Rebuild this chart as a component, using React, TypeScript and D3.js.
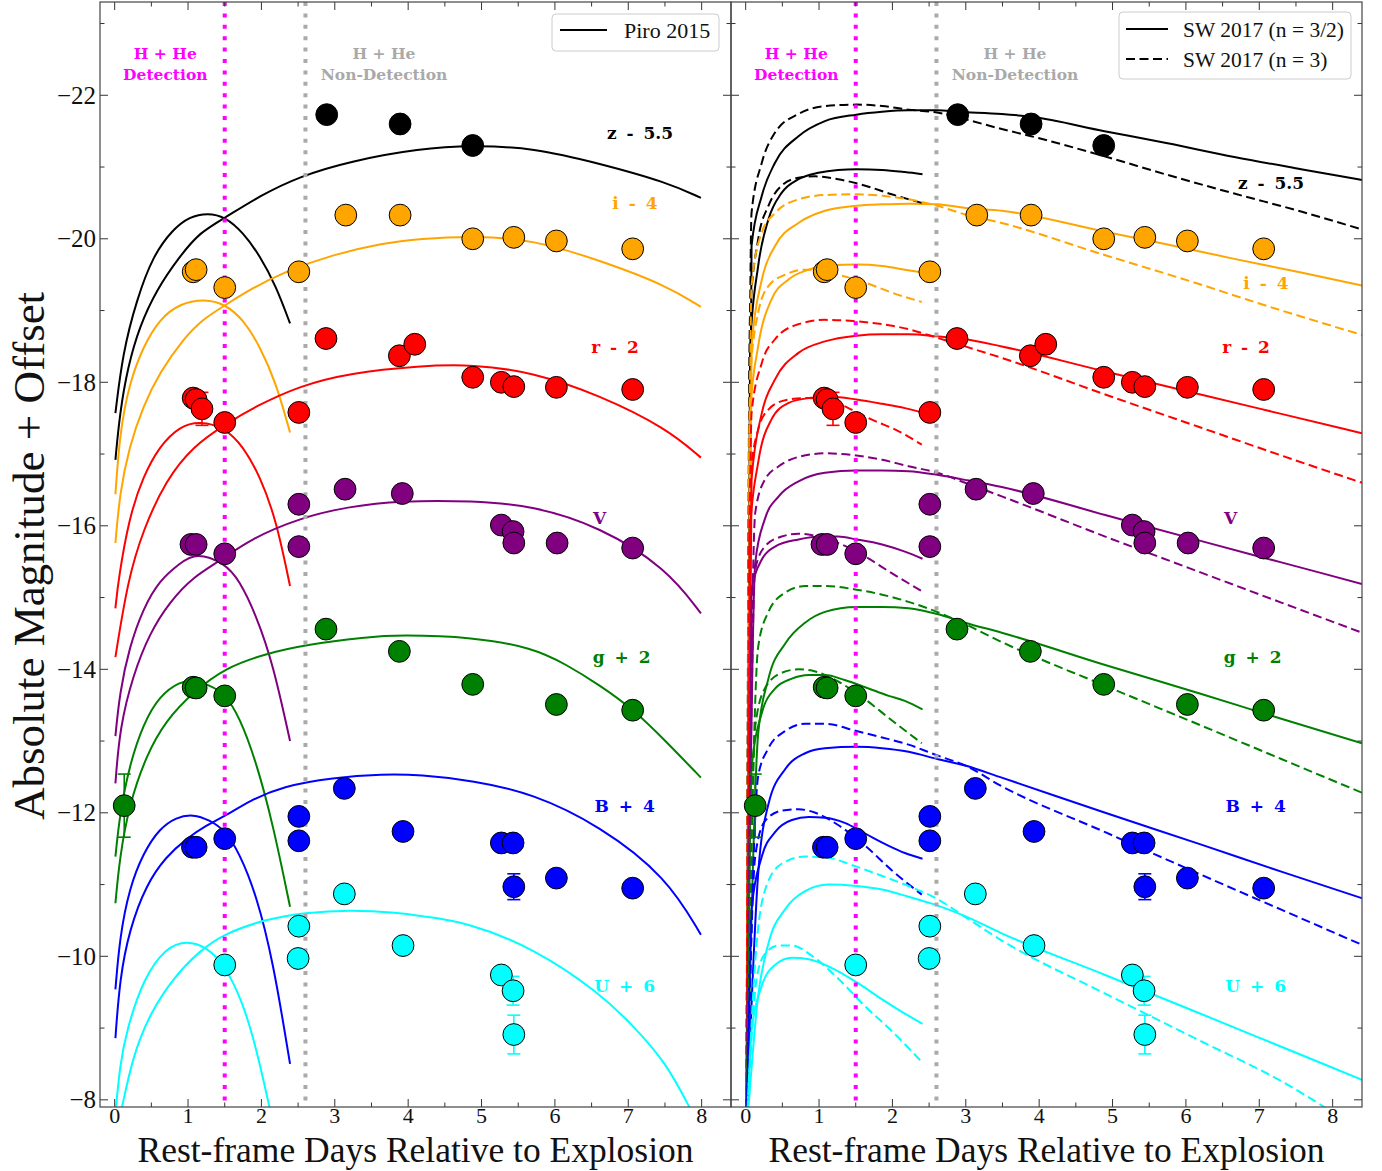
import React from 'react';
import * as d3 from 'd3';

type P = [number, number];

// ---------------- axes ----------------
const X_DOMAIN: [number, number] = [-0.2, 8.4];
const Y_DOMAIN: [number, number] = [-7.9, -23.3];
const xMajorTicks = [0, 1, 2, 3, 4, 5, 6, 7, 8];
const xMinorTicks = [0.5, 1.5, 2.5, 3.5, 4.5, 5.5, 6.5, 7.5];
const yMajorTicks = [-22, -20, -18, -16, -14, -12, -10, -8];
const yMinorTicks = [-23, -21, -19, -17, -15, -13, -11, -9];
const detectionDay = 1.5;
const nonDetectionDay = 2.6;

// ---------------- bands ----------------
const bandKeys = ['z', 'i', 'r', 'V', 'g', 'B', 'U'];
const bandColors = ['#000000', '#FFA500', '#FF0000', '#800080', '#008000', '#0000FF', '#00FFFF'];
const bandLabels = ['z - 5.5', 'i - 4', 'r - 2', 'V', 'g + 2', 'B + 4', 'U + 6'];

// ---------------- observations ----------------
const zObs: P[] = [[2.89, -21.73], [3.89, -21.60], [4.88, -21.30]];
const iObs: P[] = [[1.07, -19.54], [1.11, -19.57], [1.50, -19.32], [2.51, -19.54], [3.15, -20.33], [3.89, -20.33], [4.88, -20.00], [5.44, -20.02], [6.02, -19.97], [7.06, -19.86]];
const rObs: P[] = [[1.07, -17.78], [1.11, -17.76], [1.19, -17.63], [1.50, -17.44], [2.51, -17.58], [2.88, -18.61], [3.88, -18.37], [4.09, -18.53], [4.88, -18.07], [5.27, -18.00], [5.44, -17.94], [6.02, -17.93], [7.06, -17.90]];
const VObs: P[] = [[1.04, -15.74], [1.11, -15.74], [1.50, -15.61], [2.51, -16.30], [2.51, -15.71], [3.14, -16.51], [3.92, -16.45], [5.27, -16.01], [5.43, -15.92], [5.44, -15.76], [6.03, -15.76], [7.06, -15.69]];
const gObs: P[] = [[0.13, -12.10], [1.07, -13.75], [1.11, -13.74], [1.50, -13.63], [2.88, -14.56], [3.88, -14.25], [4.88, -13.79], [6.02, -13.51], [7.06, -13.43]];
const BObs: P[] = [[1.06, -11.52], [1.11, -11.52], [1.50, -11.64], [2.51, -11.95], [2.51, -11.61], [3.13, -12.34], [3.93, -11.74], [5.27, -11.58], [5.43, -11.58], [5.44, -10.97], [6.02, -11.09], [7.06, -10.95]];
const UObs: P[] = [[1.50, -9.88], [2.51, -10.42], [2.50, -9.97], [3.13, -10.87], [3.93, -10.15], [5.27, -9.74], [5.43, -9.52], [5.44, -8.91]];
const observations = [zObs, iObs, rObs, VObs, gObs, BObs, UObs];

// error bars: band index, day, mag, error
const errBand = [2, 4, 5, 6, 6];
const errDay = [1.19, 0.13, 5.44, 5.43, 5.44];
const errMag = [-17.63, -12.10, -10.97, -9.52, -8.91];
const errSize = [0.23, 0.44, 0.18, 0.20, 0.27];

// ---------------- Piro 2015 models (left panel) ----------------
const zPiroShort: P[] = [[0.01, -17.57], [0.11, -18.41], [0.30, -19.15], [0.52, -19.76], [0.79, -20.13], [1.02, -20.31], [1.27, -20.36], [1.50, -20.31], [1.75, -20.09], [1.98, -19.76], [2.20, -19.34], [2.39, -18.82]];
const zPiroLong: P[] = [[0.01, -16.92], [0.07, -17.57], [0.18, -18.22], [0.34, -18.78], [0.57, -19.29], [0.89, -19.76], [1.16, -20.09], [1.50, -20.29], [1.98, -20.60], [2.52, -20.87], [3.20, -21.08], [4.16, -21.26], [4.88, -21.30], [5.70, -21.27], [6.61, -21.05], [7.52, -20.79], [7.99, -20.57]];
const iPiroShort: P[] = [[0.01, -16.44], [0.07, -17.30], [0.20, -17.99], [0.39, -18.50], [0.61, -18.88], [0.89, -19.10], [1.23, -19.16], [1.50, -19.09], [1.75, -18.88], [1.98, -18.50], [2.20, -17.99], [2.39, -17.30]];
const iPiroLong: P[] = [[0.01, -15.76], [0.07, -16.46], [0.20, -17.11], [0.39, -17.67], [0.61, -18.13], [0.93, -18.60], [1.20, -18.88], [1.50, -19.07], [1.84, -19.29], [2.29, -19.53], [2.97, -19.78], [3.66, -19.94], [4.16, -20.00], [4.88, -20.04], [5.70, -19.99], [6.61, -19.70], [7.52, -19.35], [7.99, -19.05]];
const rPiroShort: P[] = [[0.01, -14.85], [0.05, -15.25], [0.20, -16.13], [0.39, -16.69], [0.61, -17.11], [0.89, -17.39], [1.16, -17.46], [1.50, -17.37], [1.75, -17.11], [1.98, -16.69], [2.20, -16.09], [2.39, -15.16]];
const rPiroLong: P[] = [[0.01, -14.17], [0.18, -15.25], [0.39, -15.95], [0.70, -16.64], [1.07, -17.11], [1.50, -17.41], [1.93, -17.67], [2.52, -17.95], [3.20, -18.13], [4.16, -18.23], [4.88, -18.25], [5.70, -18.14], [6.61, -17.82], [7.52, -17.36], [7.99, -16.95]];
const VPiroShort: P[] = [[0.01, -13.07], [0.07, -13.68], [0.20, -14.31], [0.39, -14.85], [0.61, -15.24], [0.89, -15.48], [1.11, -15.63], [1.50, -15.48], [1.70, -15.24], [1.93, -14.75], [2.16, -14.07], [2.39, -13.00]];
const VPiroLong: P[] = [[0.01, -12.41], [0.07, -13.19], [0.25, -13.92], [0.48, -14.51], [0.75, -14.94], [1.07, -15.29], [1.45, -15.52], [1.84, -15.81], [2.52, -16.11], [3.20, -16.27], [3.88, -16.35], [4.88, -16.35], [5.70, -16.28], [6.61, -15.99], [7.52, -15.41], [7.99, -14.78]];
const gPiroShort: P[] = [[0.01, -11.39], [0.07, -11.98], [0.20, -12.66], [0.39, -13.24], [0.61, -13.63], [0.89, -13.83], [1.07, -13.85], [1.29, -13.78], [1.50, -13.66], [1.70, -13.34], [1.93, -12.71], [2.16, -11.83], [2.39, -10.69]];
const gPiroLong: P[] = [[0.01, -10.74], [0.07, -11.39], [0.20, -12.12], [0.43, -12.80], [0.70, -13.29], [1.07, -13.68], [1.50, -14.02], [2.07, -14.22], [2.59, -14.34], [3.43, -14.45], [3.88, -14.48], [4.88, -14.45], [5.70, -14.30], [6.15, -14.07], [6.61, -13.78], [7.06, -13.45], [7.52, -12.99], [7.99, -12.49]];
const BPiroShort: P[] = [[0.01, -9.54], [0.07, -10.27], [0.20, -10.95], [0.39, -11.44], [0.61, -11.78], [0.84, -11.94], [1.07, -11.98], [1.29, -11.90], [1.50, -11.76], [1.70, -11.44], [1.93, -10.86], [2.16, -9.93], [2.39, -8.50]];
const BPiroLong: P[] = [[0.01, -8.86], [0.07, -9.69], [0.20, -10.37], [0.43, -11.00], [0.70, -11.39], [0.98, -11.64], [1.25, -11.83], [1.50, -11.95], [1.84, -12.17], [2.29, -12.37], [2.97, -12.49], [3.66, -12.54], [4.16, -12.53], [4.88, -12.45], [5.70, -12.27], [6.61, -11.82], [7.52, -11.11], [7.99, -10.30]];
const UPiroShort: P[] = [[0.01, -7.80], [0.07, -8.47], [0.16, -8.96], [0.39, -9.69], [0.70, -10.13], [0.99, -10.22], [1.25, -10.13], [1.50, -9.88], [1.75, -9.35], [1.93, -8.72], [2.11, -7.90], [2.14, -7.75]];
const UPiroLong: P[] = [[0.09, -7.85], [0.25, -8.62], [0.48, -9.20], [0.79, -9.69], [1.16, -10.08], [1.50, -10.32], [2.07, -10.52], [2.59, -10.61], [3.20, -10.65], [3.88, -10.61], [4.16, -10.56], [4.79, -10.48], [5.70, -10.12], [6.61, -9.49], [7.06, -9.04], [7.52, -8.51], [7.83, -7.90], [7.90, -7.78]];

// ---------------- SW 2017 models (right panel) ----------------
// n = 3/2 (solid)
const zSW15Short: P[] = [[0.01, -7.5], [0.06, -18.50], [0.17, -19.62], [0.31, -20.27], [0.49, -20.64], [0.72, -20.83], [0.99, -20.92], [1.26, -20.96], [1.51, -20.97], [1.86, -20.96], [2.17, -20.93], [2.41, -20.90]];
const zSW15Long: P[] = [[0.01, -7.5], [0.08, -19.90], [0.22, -20.60], [0.40, -21.06], [0.72, -21.43], [1.08, -21.64], [1.51, -21.73], [1.86, -21.77], [2.22, -21.79], [2.61, -21.79], [2.90, -21.77], [3.49, -21.74], [3.89, -21.70], [4.89, -21.50], [5.75, -21.33], [6.66, -21.14], [7.57, -20.97], [8.40, -20.82]];
const iSW15Short: P[] = [[0.01, -7.5], [0.06, -17.57], [0.17, -18.50], [0.35, -19.15], [0.58, -19.43], [0.86, -19.57], [1.17, -19.63], [1.51, -19.64], [1.86, -19.62], [2.17, -19.57], [2.41, -19.53]];
const iSW15Long: P[] = [[0.01, -7.5], [0.08, -18.50], [0.22, -19.43], [0.40, -19.90], [0.72, -20.22], [1.08, -20.39], [1.51, -20.46], [1.86, -20.48], [2.22, -20.49], [2.61, -20.48], [2.99, -20.43], [3.49, -20.39], [4.89, -20.10], [5.75, -19.92], [6.66, -19.72], [7.57, -19.53], [8.40, -19.35]];
const rSW15Short: P[] = [[0.01, -7.5], [0.06, -15.95], [0.17, -16.88], [0.35, -17.48], [0.58, -17.71], [0.86, -17.78], [1.17, -17.80], [1.51, -17.76], [1.86, -17.70], [2.17, -17.64], [2.41, -17.58]];
const rSW15Long: P[] = [[0.01, -7.5], [0.08, -16.64], [0.22, -17.57], [0.40, -18.04], [0.72, -18.41], [1.08, -18.57], [1.51, -18.65], [1.86, -18.67], [2.22, -18.67], [2.61, -18.64], [2.99, -18.60], [3.49, -18.50], [4.90, -18.15], [6.20, -17.83], [7.30, -17.56], [8.40, -17.29]];
const VSW15Short: P[] = [[0.01, -7.5], [0.08, -15.11], [0.22, -15.53], [0.40, -15.71], [0.72, -15.81], [1.04, -15.85], [1.26, -15.85], [1.51, -15.81], [1.86, -15.74], [2.17, -15.64], [2.41, -15.54]];
const VSW15Long: P[] = [[0.01, -7.5], [0.13, -15.48], [0.26, -16.09], [0.45, -16.41], [0.72, -16.62], [1.08, -16.74], [1.51, -16.77], [1.86, -16.77], [2.22, -16.76], [2.61, -16.71], [2.99, -16.64], [3.49, -16.54], [4.90, -16.15], [6.20, -15.79], [7.30, -15.49], [8.40, -15.19]];
const gSW15Short: P[] = [[0.01, -7.5], [0.08, -12.61], [0.22, -13.39], [0.40, -13.73], [0.63, -13.87], [0.86, -13.92], [1.08, -13.92], [1.35, -13.85], [1.63, -13.75], [1.95, -13.63], [2.17, -13.56], [2.41, -13.44]];
const gSW15Long: P[] = [[0.01, -7.5], [0.17, -13.10], [0.31, -13.87], [0.54, -14.36], [0.81, -14.65], [1.08, -14.80], [1.51, -14.87], [1.86, -14.87], [2.22, -14.85], [2.61, -14.77], [2.99, -14.65], [3.49, -14.51], [4.90, -14.06], [6.20, -13.66], [7.30, -13.31], [8.40, -12.97]];
const BSW15Short: P[] = [[0.01, -7.5], [0.08, -10.66], [0.22, -11.39], [0.40, -11.73], [0.63, -11.90], [0.86, -11.94], [1.08, -11.93], [1.35, -11.86], [1.63, -11.71], [1.95, -11.54], [2.17, -11.44], [2.41, -11.36]];
const BSW15Long: P[] = [[0.01, -7.5], [0.17, -11.15], [0.31, -12.12], [0.54, -12.61], [0.81, -12.83], [1.08, -12.90], [1.51, -12.92], [1.86, -12.90], [2.22, -12.85], [2.61, -12.75], [2.99, -12.66], [3.49, -12.49], [4.90, -12.00], [6.20, -11.56], [7.30, -11.18], [8.40, -10.81]];
const USW15Short: P[] = [[0.01, -7.5], [0.08, -8.96], [0.22, -9.59], [0.40, -9.88], [0.63, -9.98], [0.86, -9.96], [1.17, -9.84], [1.51, -9.64], [1.86, -9.40], [2.17, -9.20], [2.41, -9.06]];
const USW15Long: P[] = [[0.01, -7.5], [0.17, -9.45], [0.31, -10.18], [0.54, -10.66], [0.81, -10.91], [1.13, -11.00], [1.51, -10.98], [1.86, -10.93], [2.22, -10.83], [2.61, -10.71], [2.99, -10.56], [3.49, -10.32], [4.90, -9.74], [6.20, -9.20], [7.30, -8.74], [8.40, -8.28]];
// n = 3 (dashed)
const zSW3Short: P[] = [[0.01, -7.5], [0.06, -18.97], [0.17, -19.99], [0.31, -20.46], [0.49, -20.74], [0.72, -20.85], [0.95, -20.87], [1.26, -20.83], [1.63, -20.74], [1.99, -20.62], [2.40, -20.50]];
const zSW3Long: P[] = [[0.01, -7.5], [0.08, -20.36], [0.22, -21.06], [0.40, -21.48], [0.72, -21.74], [1.08, -21.85], [1.51, -21.87], [1.86, -21.85], [2.22, -21.80], [2.61, -21.76], [2.90, -21.69], [3.49, -21.53], [3.89, -21.43], [4.89, -21.15], [5.75, -20.89], [6.66, -20.63], [7.57, -20.38], [8.40, -20.13]];
const iSW3Short: P[] = [[0.01, -7.5], [0.06, -18.04], [0.17, -18.97], [0.31, -19.34], [0.54, -19.50], [0.81, -19.57], [0.99, -19.57], [1.26, -19.50], [1.63, -19.39], [1.99, -19.25], [2.40, -19.12]];
const iSW3Long: P[] = [[0.01, -7.5], [0.08, -19.34], [0.22, -20.09], [0.40, -20.36], [0.72, -20.55], [1.08, -20.61], [1.51, -20.62], [1.86, -20.60], [2.22, -20.55], [2.61, -20.46], [2.99, -20.34], [3.49, -20.22], [4.84, -19.79], [6.21, -19.36], [6.84, -19.15], [8.40, -18.66]];
const rSW3Short: P[] = [[0.01, -7.5], [0.06, -16.64], [0.17, -17.34], [0.31, -17.62], [0.54, -17.75], [0.81, -17.78], [1.08, -17.77], [1.40, -17.64], [1.72, -17.48], [2.08, -17.32], [2.40, -17.13]];
const rSW3Long: P[] = [[0.01, -7.5], [0.08, -17.57], [0.22, -18.27], [0.40, -18.60], [0.72, -18.81], [1.08, -18.87], [1.51, -18.85], [1.86, -18.81], [2.22, -18.74], [2.61, -18.62], [2.99, -18.50], [3.49, -18.34], [4.90, -17.83], [6.20, -17.37], [7.30, -16.98], [8.40, -16.60]];
const VSW3Short: P[] = [[0.01, -7.5], [0.13, -15.39], [0.26, -15.71], [0.49, -15.85], [0.72, -15.89], [0.95, -15.86], [1.26, -15.76], [1.63, -15.57], [1.99, -15.34], [2.40, -15.09]];
const VSW3Long: P[] = [[0.01, -7.5], [0.13, -16.18], [0.26, -16.64], [0.45, -16.83], [0.72, -16.96], [1.08, -17.01], [1.51, -16.98], [1.86, -16.92], [2.22, -16.83], [2.61, -16.74], [2.99, -16.60], [3.49, -16.41], [4.90, -15.85], [6.20, -15.35], [7.30, -14.93], [8.40, -14.51]];
const gSW3Short: P[] = [[0.01, -7.5], [0.13, -13.20], [0.26, -13.73], [0.49, -13.95], [0.72, -14.00], [0.95, -13.97], [1.26, -13.83], [1.63, -13.58], [1.99, -13.29], [2.40, -12.97]];
const gSW3Long: P[] = [[0.01, -7.5], [0.17, -14.31], [0.31, -14.80], [0.54, -15.07], [0.81, -15.16], [1.08, -15.16], [1.51, -15.11], [1.86, -15.04], [2.22, -14.94], [2.61, -14.80], [2.99, -14.63], [3.49, -14.38], [4.90, -13.77], [6.20, -13.22], [7.30, -12.75], [8.40, -12.28]];
const BSW3Short: P[] = [[0.01, -7.5], [0.13, -11.39], [0.26, -11.88], [0.49, -12.03], [0.72, -12.05], [0.95, -12.00], [1.26, -11.83], [1.63, -11.54], [1.99, -11.20], [2.40, -10.86]];
const BSW3Long: P[] = [[0.01, -7.5], [0.17, -12.51], [0.31, -12.90], [0.54, -13.14], [0.81, -13.24], [1.08, -13.24], [1.51, -13.14], [1.86, -13.05], [2.22, -12.95], [2.61, -12.80], [2.99, -12.66], [3.49, -12.37], [4.90, -11.73], [6.20, -11.14], [7.30, -10.65], [8.40, -10.16]];
const USW3Short: P[] = [[0.01, -7.5], [0.15, -9.69], [0.26, -10.03], [0.45, -10.15], [0.63, -10.15], [0.90, -10.01], [1.26, -9.69], [1.63, -9.30], [1.99, -8.96], [2.38, -8.55]];
const USW3Long: P[] = [[0.01, -7.5], [0.13, -9.93], [0.26, -10.91], [0.49, -11.29], [0.81, -11.39], [1.08, -11.38], [1.51, -11.25], [1.86, -11.12], [2.22, -10.98], [2.61, -10.80], [2.99, -10.55], [3.49, -10.22], [4.90, -9.48], [6.20, -8.82], [7.30, -8.26], [8.40, -7.56]];

const piroModels = [
  [zPiroShort, zPiroLong], [iPiroShort, iPiroLong], [rPiroShort, rPiroLong], [VPiroShort, VPiroLong],
  [gPiroShort, gPiroLong], [BPiroShort, BPiroLong], [UPiroShort, UPiroLong],
];
const sw15Models = [
  [zSW15Short, zSW15Long], [iSW15Short, iSW15Long], [rSW15Short, rSW15Long], [VSW15Short, VSW15Long],
  [gSW15Short, gSW15Long], [BSW15Short, BSW15Long], [USW15Short, USW15Long],
];
const sw3Models = [
  [zSW3Short, zSW3Long], [iSW3Short, iSW3Long], [rSW3Short, rSW3Long], [VSW3Short, VSW3Long],
  [gSW3Short, gSW3Long], [BSW3Short, BSW3Long], [USW3Short, USW3Long],
];

// ---------------- layout ----------------
const W = 1382;
const H = 1171;
const TOP = 2;
const BOTTOM = 1107;
const SERIF = "'Liberation Serif', 'Times New Roman', serif";
const BOLD_SERIF = "'DejaVu Serif', 'Liberation Serif', serif";
// band label anchors (data coords, text baseline) per panel
const leftLabelPos: P[] = [[7.16, -21.39], [7.09, -20.42], [6.82, -18.41], [6.61, -16.03], [6.91, -14.09], [6.95, -12.01], [6.95, -9.50]];
const rightLabelPos: P[] = [[7.16, -20.69], [7.09, -19.30], [6.82, -18.41], [6.61, -16.03], [6.91, -14.09], [6.95, -12.01], [6.95, -9.50]];

type Curve = { pts: P[]; color: string; dashed: boolean };

function Panel(props: {
  id: string; left: number; right: number; showYLabels: boolean; smooth: boolean;
  curves: Curve[]; labelPos: P[]; legend: React.ReactNode;
}) {
  const { id, left, right, showYLabels, smooth, curves, labelPos, legend } = props;
  const x = d3.scaleLinear().domain(X_DOMAIN).range([left, right]);
  const y = d3.scaleLinear().domain(Y_DOMAIN).range([BOTTOM, TOP]);
  const line = d3.line<P>().x(d => x(d[0])).y(d => y(d[1]))
    .curve(smooth ? d3.curveBasis : d3.curveMonotoneX);
  const spine = '#444444';
  const tickCol = '#333333';
  const majorLen = 8;
  const minorLen = 4.5;
  const cx = (left + right) / 2;
  return (
    <g>
      <defs>
        <clipPath id={`clip-${id}`}>
          <rect x={left} y={TOP} width={right - left} height={BOTTOM - TOP} />
        </clipPath>
      </defs>
      <g clipPath={`url(#clip-${id})`}>
        {curves.map((c, k) => (
          <path key={k} d={line(c.pts) || ''} fill="none" stroke={c.color} strokeWidth={2}
            strokeDasharray={c.dashed ? '9,4.5' : undefined} />
        ))}
        <line x1={x(detectionDay)} x2={x(detectionDay)} y1={TOP} y2={BOTTOM} stroke="#FF00FF" strokeWidth={4} strokeDasharray="4,7.4" />
        <line x1={x(nonDetectionDay)} x2={x(nonDetectionDay)} y1={TOP} y2={BOTTOM} stroke="#AAAAAA" strokeWidth={4} strokeDasharray="4,7.4" />
        {errBand.map((b, k) => (
          <g key={k} stroke={bandColors[b]} strokeWidth={1.6}>
            <line x1={x(errDay[k])} x2={x(errDay[k])} y1={y(errMag[k] - errSize[k])} y2={y(errMag[k] + errSize[k])} />
            <line x1={x(errDay[k]) - 6.5} x2={x(errDay[k]) + 6.5} y1={y(errMag[k] - errSize[k])} y2={y(errMag[k] - errSize[k])} />
            <line x1={x(errDay[k]) - 6.5} x2={x(errDay[k]) + 6.5} y1={y(errMag[k] + errSize[k])} y2={y(errMag[k] + errSize[k])} />
          </g>
        ))}
        {observations.map((obs, b) => obs.map((d, k) => (
          <circle key={`${b}-${k}`} cx={x(d[0])} cy={y(d[1])} r={10.9} fill={bandColors[b]} stroke="#000" strokeWidth={1} />
        )))}
      </g>
      {/* annotations */}
      <g fontFamily={BOLD_SERIF} fontWeight="bold" fontSize={15.5} textAnchor="middle" style={{ whiteSpace: 'pre' }}>
        <text x={x(0.69)} y={59} fill="#FF00FF">{'H  +  He'}</text>
        <text x={x(0.69)} y={80} fill="#FF00FF">Detection</text>
        <text x={x(3.67)} y={59} fill="#A9A9A9">{'H  +  He'}</text>
        <text x={x(3.67)} y={80} fill="#A9A9A9">Non-Detection</text>
      </g>
      <g fontFamily={BOLD_SERIF} fontWeight="bold" fontSize={17} textAnchor="middle" style={{ whiteSpace: 'pre' }}>
        {bandLabels.map((t, b) => (
          <text key={t} x={x(labelPos[b][0])} y={y(labelPos[b][1])} fill={bandColors[b]} wordSpacing={4}>{t}</text>
        ))}
      </g>
      {/* ticks */}
      <g stroke={tickCol} strokeWidth={1}>
        {xMajorTicks.map(t => (
          <g key={`xM${t}`}>
            <line x1={x(t)} x2={x(t)} y1={BOTTOM} y2={BOTTOM - majorLen} />
            <line x1={x(t)} x2={x(t)} y1={TOP} y2={TOP + majorLen} />
          </g>
        ))}
        {xMinorTicks.map(t => (
          <g key={`xm${t}`}>
            <line x1={x(t)} x2={x(t)} y1={BOTTOM} y2={BOTTOM - minorLen} />
            <line x1={x(t)} x2={x(t)} y1={TOP} y2={TOP + minorLen} />
          </g>
        ))}
        {yMajorTicks.map(t => (
          <g key={`yM${t}`}>
            <line x1={left} x2={left + majorLen} y1={y(t)} y2={y(t)} />
            <line x1={right} x2={right - majorLen} y1={y(t)} y2={y(t)} />
          </g>
        ))}
        {yMinorTicks.map(t => (
          <g key={`ym${t}`}>
            <line x1={left} x2={left + minorLen} y1={y(t)} y2={y(t)} />
            <line x1={right} x2={right - minorLen} y1={y(t)} y2={y(t)} />
          </g>
        ))}
      </g>
      <rect x={left} y={TOP} width={right - left} height={BOTTOM - TOP} fill="none" stroke={spine} strokeWidth={1.2} />
      <g fontFamily={SERIF} fontSize={22} textAnchor="middle" fill="#111">
        {xMajorTicks.map(t => (
          <text key={`xl${t}`} x={x(t)} y={1123}>{String(t)}</text>
        ))}
      </g>
      {showYLabels && (
        <g fontFamily={SERIF} fontSize={25} textAnchor="end" fill="#111">
          {yMajorTicks.map(t => (
            <text key={`yl${t}`} x={left - 4} y={y(t) + 8.5}>{`\u2212${Math.abs(t)}`}</text>
          ))}
        </g>
      )}
      <text x={cx} y={1162} fontFamily={SERIF} fontSize={35.5} textAnchor="middle" fill="#111">
        Rest-frame Days Relative to Explosion
      </text>
      {legend}
    </g>
  );
}

export default function App() {
  const leftCurves: Curve[] = [];
  piroModels.forEach((pair, b) => pair.forEach(pts => leftCurves.push({ pts, color: bandColors[b], dashed: false })));
  const rightCurves: Curve[] = [];
  sw15Models.forEach((pair, b) => pair.forEach(pts => rightCurves.push({ pts, color: bandColors[b], dashed: false })));
  sw3Models.forEach((pair, b) => pair.forEach(pts => rightCurves.push({ pts, color: bandColors[b], dashed: true })));

  const leftLegend = (
    <g fontFamily={SERIF} fontSize={22} fill="#111">
      <rect x={552} y={14} width={167} height={37} rx={4} fill="#fff" fillOpacity={0.85} stroke="#cccccc" />
      <line x1={560} x2={607} y1={30} y2={30} stroke="#000" strokeWidth={2} />
      <text x={624} y={38}>Piro 2015</text>
    </g>
  );
  const rightLegend = (
    <g fontFamily={SERIF} fontSize={21.5} fill="#111">
      <rect x={1119} y={12} width={232} height={67} rx={4} fill="#fff" fillOpacity={0.85} stroke="#cccccc" />
      <line x1={1126} x2={1168} y1={29} y2={29} stroke="#000" strokeWidth={2} />
      <text x={1183} y={37}>SW 2017 (n = 3/2)</text>
      <line x1={1126} x2={1168} y1={59} y2={59} stroke="#000" strokeWidth={2} strokeDasharray="9,4.5" />
      <text x={1183} y={67}>SW 2017 (n = 3)</text>
    </g>
  );

  return (
    <svg width={W} height={H} viewBox={`0 0 ${W} ${H}`}
      style={{ position: 'absolute', left: 0, top: 0, background: '#fff' }}>
      <rect x={0} y={0} width={W} height={H} fill="#fff" />
      <Panel id="left" left={100} right={731} showYLabels={true} smooth={true} curves={leftCurves} labelPos={leftLabelPos} legend={leftLegend} />
      <Panel id="right" left={731} right={1362} showYLabels={false} smooth={false} curves={rightCurves} labelPos={rightLabelPos} legend={rightLegend} />
      <text transform="translate(44,556) rotate(-90)" fontFamily={SERIF} fontSize={45} textAnchor="middle" fill="#111">
        Absolute Magnitude + Offset
      </text>
    </svg>
  );
}
